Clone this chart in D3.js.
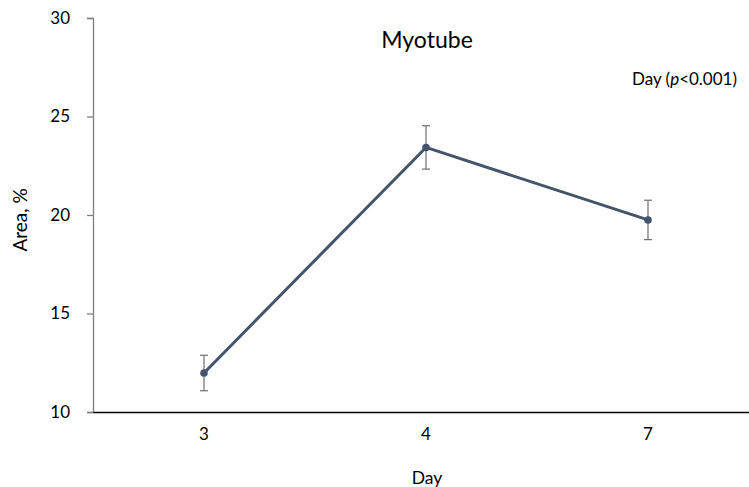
<!DOCTYPE html>
<html>
<head>
<meta charset="utf-8">
<script src="https://cdn.jsdelivr.net/npm/d3@7/dist/d3.min.js"></script>
<style>
  html, body { margin: 0; padding: 0; background: #fff; }
  svg { display: block; font-family: Lato, "Open Sans", sans-serif; }
</style>
</head>
<body>
<svg id="chart" width="749" height="487"></svg>
<script>
const categories = ["3", "4", "7"];
const values = [11.98, 23.43, 19.75];
const errors = [0.9, 1.1, 1.0];
const yTicks = [10, 15, 20, 25, 30];

const svg = d3.select("#chart");

const x = d3.scaleBand().domain(categories).range([93, 759]).paddingInner(0).paddingOuter(0);
const y = d3.scaleLinear().domain([10, 30]).range([412, 18]);

// y axis
const yAxis = svg.append("g").attr("transform", "translate(93,0)")
  .call(d3.axisLeft(y).tickValues(yTicks).tickSize(6).tickPadding(17).tickFormat(d3.format("d")));
yAxis.select(".domain").attr("stroke", "#7f7f7f").attr("stroke-width", 1.3);
yAxis.selectAll(".tick line").attr("stroke", "#7f7f7f").attr("stroke-width", 1.3);
yAxis.selectAll(".tick text").attr("font-size", 17).attr("fill", "#000").attr("font-family", "Lato, 'Open Sans', sans-serif");

// x axis
const xAxis = svg.append("g").attr("transform", "translate(0,412)")
  .call(d3.axisBottom(x).tickSize(0).tickPadding(16));
xAxis.select(".domain").attr("stroke", "#000").attr("stroke-width", 1.3);
xAxis.selectAll(".tick text").attr("font-size", 17).attr("fill", "#000").attr("font-family", "Lato, 'Open Sans', sans-serif");

const cx = d => x(d) + x.bandwidth() / 2;

// error bars
const eb = svg.append("g");
categories.forEach((c, i) => {
  const X = cx(c);
  const top = y(values[i] + errors[i]), bot = y(values[i] - errors[i]);
  eb.append("line").attr("x1", X).attr("x2", X).attr("y1", top).attr("y2", bot)
    .attr("stroke", "#6f6f6f").attr("stroke-width", 1.2);
  [top, bot].forEach(yy => eb.append("line").attr("x1", X - 4).attr("x2", X + 4).attr("y1", yy).attr("y2", yy)
    .attr("stroke", "#6f6f6f").attr("stroke-width", 1.2));
});

// line
const line = d3.line().x((d, i) => cx(categories[i])).y(d => y(d));
svg.append("path").datum(values).attr("d", line)
  .attr("fill", "none").attr("stroke", "#44546a").attr("stroke-width", 3).attr("stroke-linejoin", "round");

svg.append("g").selectAll("circle").data(values).join("circle")
  .attr("cx", (d, i) => cx(categories[i])).attr("cy", d => y(d)).attr("r", 3.8)
  .attr("fill", "#44546a");

// titles
svg.append("text").attr("x", 427).attr("y", 48).attr("text-anchor", "middle")
  .attr("font-size", 23).attr("fill", "#000").text("Myotube");

const ann = svg.append("text").attr("x", 737).attr("y", 85).attr("text-anchor", "end")
  .attr("font-size", 17).attr("fill", "#000");
ann.append("tspan").text("Day (");
ann.append("tspan").attr("font-style", "italic").text("p");
ann.append("tspan").text("<0.001)");

svg.append("text").attr("transform", "translate(27,220) rotate(-90)").attr("text-anchor", "middle")
  .attr("font-size", 19).attr("fill", "#000").text("Area, %");

svg.append("text").attr("x", 427).attr("y", 484).attr("text-anchor", "middle")
  .attr("font-size", 17.5).attr("fill", "#000").text("Day");
</script>
</body>
</html>
